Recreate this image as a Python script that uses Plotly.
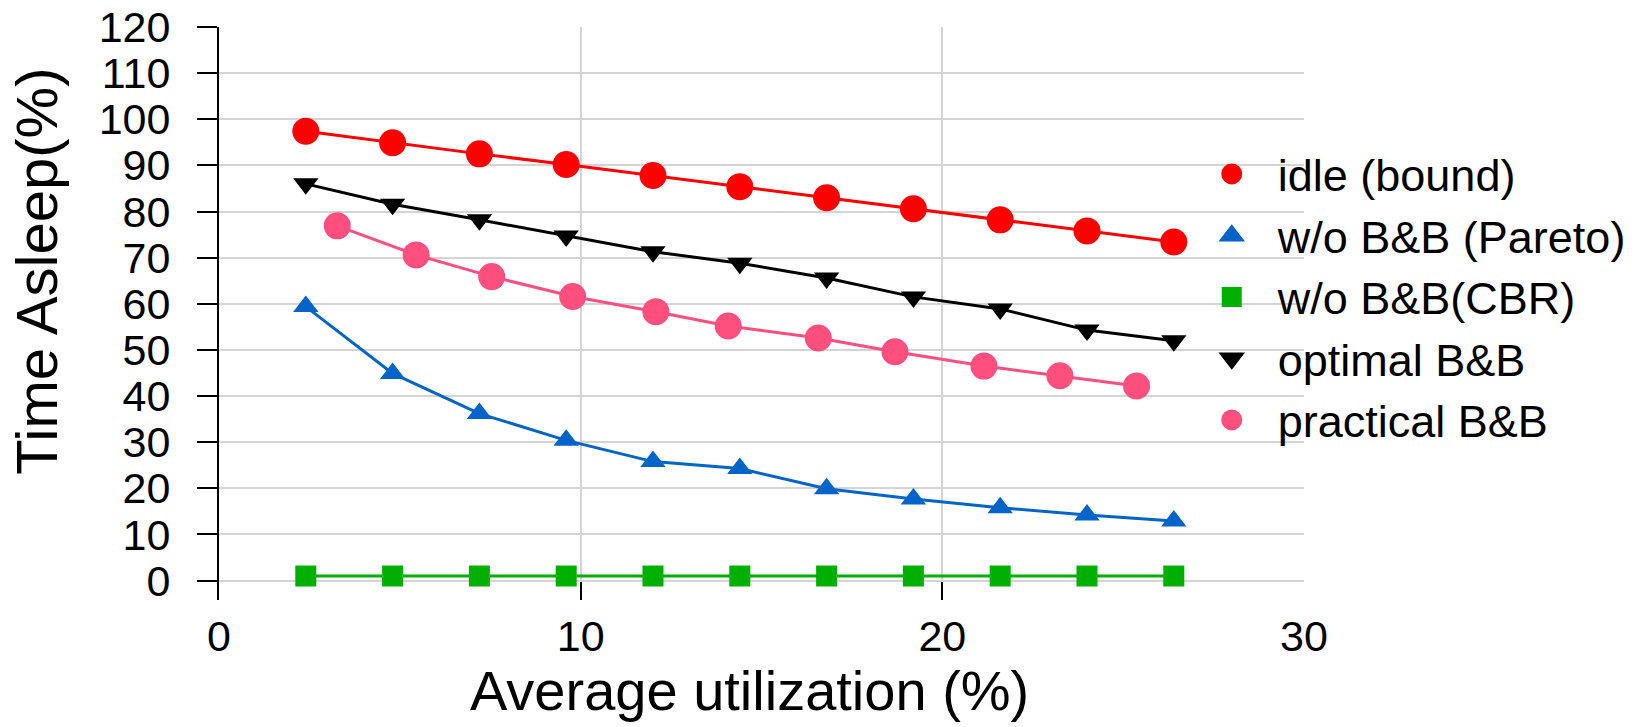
import plotly.graph_objects as go

# ---- data ----
x_util = [2.4, 4.8, 7.2, 9.6, 12.0, 14.4, 16.8, 19.2, 21.6, 24.0, 26.4]
idle_bound = [97.4, 94.9, 92.5, 90.2, 87.8, 85.4, 83.0, 80.6, 78.2, 75.8, 73.4]
wo_bb_pareto = [59.4, 44.9, 36.2, 30.4, 25.8, 24.3, 19.9, 17.7, 15.8, 14.2, 12.9]
wo_bb_cbr = [1.0, 1.0, 1.0, 1.0, 1.0, 1.0, 1.0, 1.0, 1.0, 1.0, 1.0]
optimal_bb = [86.0, 81.6, 78.2, 74.7, 71.3, 68.8, 65.6, 61.5, 58.9, 54.3, 52.0]
x_practical = [3.27, 5.45, 7.54, 9.78, 12.08, 14.08, 16.57, 18.69, 21.15, 23.25, 25.37]
practical_bb = [76.9, 70.6, 65.9, 61.6, 58.3, 55.2, 52.6, 49.6, 46.5, 44.4, 42.2]

x_ticks = [0, 10, 20, 30]
y_ticks = [0, 10, 20, 30, 40, 50, 60, 70, 80, 90, 100, 110, 120]

x_title = "Average utilization (%)"
y_title = "Time Asleep(%)"

FONT = "Liberation Sans, Arial, sans-serif"

series = [
    ("idle (bound)", x_util, idle_bound, "#FF0000", "circle", 27, 5),
    ("w/o B&B (Pareto)", x_util, wo_bb_pareto, "#0064C8", "triangle-up", 22, 4),
    ("w/o B&B(CBR)", x_util, wo_bb_cbr, "#00B000", "square", 21, 4),
    ("optimal B&B", x_util, optimal_bb, "#000000", "triangle-down", 22, 4),
    ("practical B&B", x_practical, practical_bb, "#FF4F7F", "circle", 27, 5),
]

fig = go.Figure()
for name, xs, ys, col, sym, sz, lw in series:
    fig.add_trace(go.Scatter(
        x=xs, y=ys, mode="lines+markers", name=name, showlegend=False,
        line=dict(color=col, width=3),
        marker=dict(color=col, symbol=sym, size=sz),
    ))
# legend entries (marker only, like the reference)
for name, xs, ys, col, sym, sz, lw in series:
    fig.add_trace(go.Scatter(
        x=[None], y=[None], mode="markers", name=name,
        marker=dict(color=col, symbol=sym, size=sz, line=dict(color=col, width=lw)),
    ))

fig.update_layout(
    width=1637, height=727,
    margin=dict(l=219, r=333, t=27, b=127, autoexpand=False),
    paper_bgcolor="white", plot_bgcolor="white",
    font=dict(family=FONT, color="black"),
    legend=dict(
        x=0.891, y=0.806, xanchor="left", yanchor="top",
        bgcolor="rgba(0,0,0,0)", font=dict(size=45, family=FONT, color="black"),
        itemwidth=82,
    ),
    annotations=[
        dict(text=y_title, textangle=-90, xref="paper", yref="paper",
             x=-0.1677, y=0.573, xanchor="center", yanchor="middle",
             showarrow=False, font=dict(size=58, family=FONT, color="black")),
        dict(text=x_title, xref="paper", yref="paper",
             x=0.4885, y=-0.158, xanchor="center", yanchor="middle",
             showarrow=False, font=dict(size=56, family=FONT, color="black")),
    ],
)
fig.update_xaxes(
    range=[0, 30], tickvals=x_ticks, ticktext=[str(v) for v in x_ticks],
    showgrid=True, gridcolor="#D4D4D4", gridwidth=2,
    showline=False, zeroline=False, automargin=False,
    ticks="inside", ticklen=18, tickwidth=2, tickcolor="black",
    tickfont=dict(size=43, family=FONT, color="black"),
    ticklabelstandoff=7,
)
fig.update_yaxes(
    range=[-4.2, 120], tickvals=y_ticks, ticktext=[str(v) for v in y_ticks],
    showgrid=True, gridcolor="#D4D4D4", gridwidth=2,
    showline=True, linecolor="black", linewidth=2, zeroline=False, automargin=False,
    ticks="outside", ticklen=20, tickwidth=2, tickcolor="black",
    tickfont=dict(size=43, family=FONT, color="black"),
    ticklabelstandoff=18,
)

# remove the browser's default 8px body margin so the figure sits at the page origin
fig.write_html("out.html", config={"displayModeBar": False},
               post_script="document.body.style.margin='0';")
